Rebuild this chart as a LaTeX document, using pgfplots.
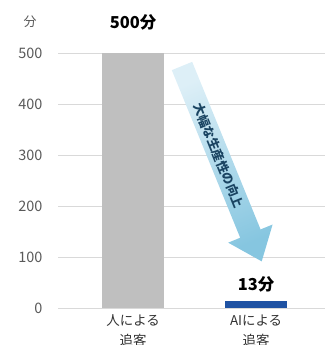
\documentclass[border=0pt]{standalone}
\usepackage{fontspec}
\setmainfont{Noto Sans CJK JP}
\usepackage{pgfplots}
\pgfplotsset{compat=1.18}
\definecolor{gridc}{HTML}{D9D9D9}
\definecolor{barg}{HTML}{BFBFBF}
\definecolor{barb}{HTML}{1F52A3}
\definecolor{tickc}{HTML}{595959}
\definecolor{arrtop}{HTML}{DDEFF7}
\definecolor{arrbot}{HTML}{86C6E0}
\definecolor{arrtxt}{HTML}{1A4462}
\begin{document}
\begin{tikzpicture}[x=1bp,y=1bp]
\useasboundingbox (0,0) rectangle (325,345);
\begin{axis}[
  at={(58bp,37bp)}, anchor=south west,
  scale only axis, width=267bp, height=255bp,
  xmin=-0.61, xmax=1.56, ymin=0, ymax=500,
  axis x line*=bottom, axis y line*=left,
  y axis line style={draw=none},
  x axis line style={draw=gridc, line width=0.8pt},
  ytick={0,100,200,300,400,500},
  ymajorgrids, grid style={draw=gridc, line width=0.8pt},
  major tick length=0pt,
  xtick={0,1},
  xticklabels={人による\\追客, AIによる\\追客},
  xticklabel style={align=center, font=\fontsize{13.5}{20}\selectfont, text=black!80, yshift=-3bp},
  yticklabel style={font=\fontsize{14.5}{16}\selectfont, text=tickc, xshift=-12bp},
  /pgf/number format/assume math mode=true,
  clip=false,
]
\addplot[ybar, bar width=62bp, fill=barg, draw=none] coordinates {(0,500)};
\addplot[ybar, bar width=62bp, fill=barb, draw=none] coordinates {(1,13)};
\node[font=\fontsize{16.5}{18}\selectfont\bfseries] at (axis cs:0,500) [yshift=31bp] {500分};
\node[font=\fontsize{16.5}{18}\selectfont\bfseries] at (axis cs:1,13) [yshift=17bp] {13分};
\end{axis}
\node[font=\fontsize{13}{16}\selectfont, text=tickc] at (30,323) {分};
\shade[top color=arrtop, bottom color=arrbot, shading angle=22.2]
  (192.19,283.16) -- (260.57,115.57) -- (272.60,120.48) -- (261.72,83.64)
  -- (228.16,102.34) -- (240.19,107.25) -- (171.81,274.84) -- cycle;
\node[rotate=-67.8, font=\fontsize{12.5}{14}\selectfont\bfseries, text=arrtxt] at (218.65,189.19) {大幅な生産性の向上};
\end{tikzpicture}
\end{document}
